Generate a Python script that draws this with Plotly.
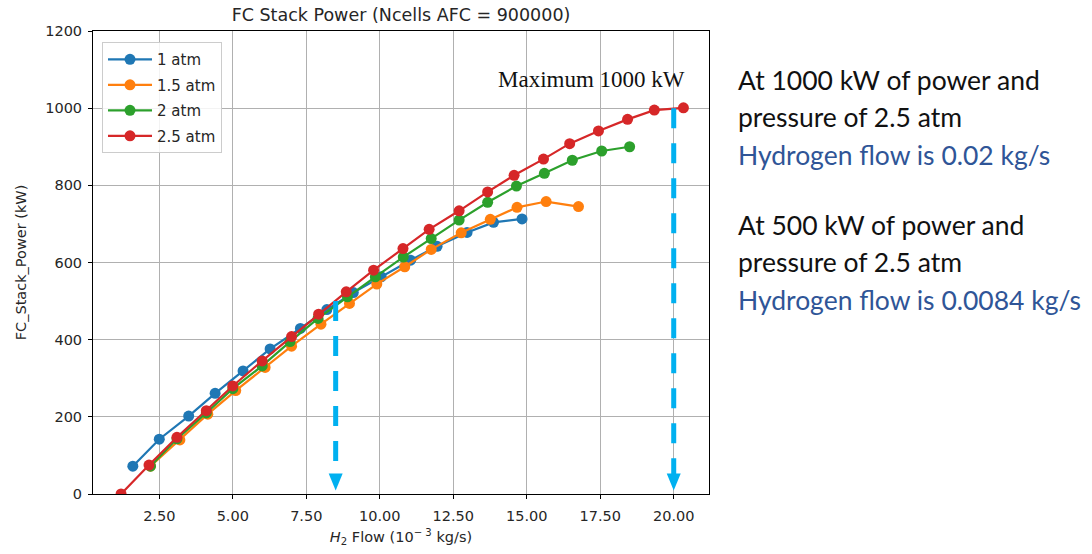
import plotly.graph_objects as go

# ---- data ----
flow_1atm = [1.6, 2.5, 3.5, 4.4, 5.35, 6.27, 7.3, 8.2, 9.1, 10.05, 11.05, 11.95, 12.97, 13.87, 14.84]
power_1atm = [72, 142, 202, 261, 319, 376, 429, 478, 522, 563, 606, 642, 678, 704, 713]

flow_15atm = [2.2, 3.2, 4.15, 5.1, 6.1, 7.0, 8.0, 8.97, 9.9, 10.85, 11.75, 12.77, 13.76, 14.67, 15.66, 16.76]
power_15atm = [72, 140, 207, 268, 328, 383, 440, 494, 544, 589, 634, 677, 712, 743, 758, 745]

flow_2atm = [2.2, 3.1, 4.1, 5.0, 6.0, 6.95, 7.9, 8.9, 9.85, 10.8, 11.75, 12.7, 13.67, 14.65, 15.6, 16.55, 17.55, 18.5]
power_2atm = [72, 143, 210, 273, 332, 395, 455, 511, 563, 614, 662, 710, 756, 798, 831, 865, 889, 900]

flow_25atm = [1.2, 2.15, 3.1, 4.1, 5.0, 6.0, 7.0, 7.92, 8.86, 9.79, 10.79, 11.68, 12.7, 13.67, 14.57, 15.57, 16.46, 17.44, 18.43, 19.34, 20.33]
power_25atm = [0, 75, 147, 216, 280, 345, 408, 466, 524, 580, 636, 686, 734, 783, 826, 868, 908, 941, 971, 995, 1001]

series_names = ["1 atm", "1.5 atm", "2 atm", "2.5 atm"]
series_colors = ["#1f77b4", "#ff7f0e", "#2ca02c", "#d62728"]
series_x = [flow_1atm, flow_15atm, flow_2atm, flow_25atm]
series_y = [power_1atm, power_15atm, power_2atm, power_25atm]

x_ticks = [2.5, 5.0, 7.5, 10.0, 12.5, 15.0, 17.5, 20.0]
x_tick_labels = ["2.50", "5.00", "7.50", "10.00", "12.50", "15.00", "17.50", "20.00"]
y_ticks = [0, 200, 400, 600, 800, 1000, 1200]

# reading arrows (flow at which power is read, power level)
arrow_flow = [8.5, 20.0]
arrow_power = [500, 1000]
arrow_end = 52
arrow_tip = 9

max_label = "Maximum 1000 kW"
max_label_pos = (17.2, 1075)

note_lines = [
    ("At 1000 kW of power and", "#111111"),
    ("pressure of 2.5 atm", "#111111"),
    ("Hydrogen flow is 0.02 kg/s", "#2F5597"),
    ("At 500 kW of power and", "#111111"),
    ("pressure of 2.5 atm", "#111111"),
    ("Hydrogen flow is 0.0084 kg/s", "#2F5597"),
]
note_y_px = [80, 117, 155, 225, 262, 300]

# ---- figure ----
W, H = 1092, 554
ML, MR, MT, MB = 93, 383, 31, 60
plot_h = H - MT - MB
plot_w = W - ML - MR

fig = go.Figure()
for i, (name, col, xs, ys) in enumerate(zip(series_names, series_colors, series_x, series_y)):
    fig.add_trace(go.Scatter(
        x=xs, y=ys, mode="lines+markers", name=name,
        line=dict(color=col, width=2.2),
        marker=dict(color=col, size=11),
        legendgroup=name,
    ))

arrow_color = "#00B0F0"
for ax_, ap in zip(arrow_flow, arrow_power):
    fig.add_shape(type="line", xref="x", yref="y", x0=ax_, x1=ax_, y0=ap, y1=arrow_end,
                  line=dict(color=arrow_color, width=5, dash="20px,15px"), layer="above")
    fig.add_shape(type="path", xref="x", yref="y", xsizemode="pixel", ysizemode="pixel",
                  xanchor=ax_, yanchor=arrow_tip, path="M-7,17 L7,17 L0,0 Z",
                  fillcolor=arrow_color, line=dict(width=0), layer="above")

fig.add_annotation(x=max_label_pos[0], y=max_label_pos[1], xref="x", yref="y",
                   text=max_label, showarrow=False,
                   font=dict(family="Liberation Serif", size=23, color="#111111"))

for (txt, col), py in zip(note_lines, note_y_px):
    fig.add_annotation(x=(736 - ML) / plot_w, y=(H - MB - py) / plot_h, xref="paper", yref="paper",
                       xanchor="left", yanchor="middle", text=txt, showarrow=False,
                       font=dict(family="Lato", size=26.5, color=col))

axis_common = dict(
    showline=True, linecolor="black", linewidth=1, mirror=True,
    showgrid=True, gridcolor="#b0b0b0", gridwidth=0.8,
    ticks="outside", ticklen=4, tickcolor="black",
    tickfont=dict(family="DejaVu Sans", size=14.5, color="#262626"),
    zeroline=False,
)

fig.update_layout(
    width=W, height=H,
    margin=dict(l=ML, r=MR, t=MT, b=MB),
    paper_bgcolor="white", plot_bgcolor="white",
    font=dict(family="DejaVu Sans", color="#262626"),
    title=dict(text="FC Stack Power (Ncells AFC = 900000)", x=(ML + plot_w / 2) / W, xanchor="center",
               y=1 - 15 / H, yanchor="middle", font=dict(family="DejaVu Sans", size=17.5, color="#262626")),
    xaxis=dict(range=[0.245, 21.2], tickvals=x_ticks, ticktext=x_tick_labels, ticklabelstandoff=5,
               title=dict(text="<i>H</i><sub>2</sub> Flow (10<sup>\u2212 3</sup> kg/s)", standoff=8,
                          font=dict(family="DejaVu Sans", size=14.5, color="#262626")),
               **axis_common),
    yaxis=dict(range=[0, 1200], tickvals=y_ticks, ticklabelstandoff=3,
               title=dict(text="FC_Stack_Power (kW)", standoff=15,
                          font=dict(family="DejaVu Sans", size=14.5, color="#262626")),
               **axis_common),
    legend=dict(x=0.0146, y=0.976, xanchor="left", yanchor="top",
                bgcolor="rgba(255,255,255,0.85)", bordercolor="#cccccc", borderwidth=1,
                itemwidth=44,
                tracegroupgap=3, font=dict(family="DejaVu Sans", size=15, color="#262626")),
    showlegend=True,
)

fig.write_html("out.html")
